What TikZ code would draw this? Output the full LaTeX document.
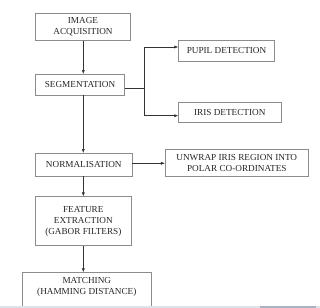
\documentclass[tikz,border=0pt]{standalone}
\usepackage{fontspec}
\setmainfont{Liberation Serif}
\usetikzlibrary{arrows.meta,calc}
\definecolor{boxline}{HTML}{8C8C8C}
\definecolor{bandA}{HTML}{DDE3EA}
\definecolor{bandB}{HTML}{A9B4C6}
\begin{document}
\begin{tikzpicture}[x=1bp,y=-1bp,
  stagebox/.style={draw=boxline,line width=0.7bp,fill=white,inner sep=0pt,align=center,
    font=\fontsize{9.2bp}{10.8bp}\selectfont,text=black!85},
  flow/.style={draw=black!80,line width=0.6bp,-{Latex[length=4bp,width=3.2bp]}}]
\useasboundingbox (0,0) rectangle (320,308);
\begin{scope}
\clip (0,0) rectangle (320,306);
\node[stagebox,minimum width=94.6bp,minimum height=27bp] (img) at (83,26.8) {IMAGE\\ACQUISITION};
\node[stagebox,minimum width=88.6bp,minimum height=20.7bp] (seg) at (80,84.7) {SEGMENTATION};
\node[stagebox,minimum width=95.6bp,minimum height=20.3bp] (pupil) at (226.5,50.8) {PUPIL DETECTION};
\node[stagebox,minimum width=102.3bp,minimum height=20.3bp] (iris) at (229.8,112.2) {IRIS DETECTION};
\node[stagebox,minimum width=96.3bp,minimum height=22.7bp] (norm) at (83.8,164.7) {NORMALISATION};
\node[stagebox,minimum width=143bp,minimum height=26.7bp] (unwrap) at (236.8,162.7) {UNWRAP IRIS REGION INTO\\POLAR CO-ORDINATES};
\node[stagebox,minimum width=95.3bp,minimum height=49bp] (feat) at (83.3,221.2) {FEATURE\\EXTRACTION\\(GABOR FILTERS)};
\node[stagebox,minimum width=129.7bp,minimum height=44bp,anchor=north] (match) at (86.8,272.3) {};
\node[align=center,font=\fontsize{9.2bp}{10.8bp}\selectfont,text=black!85,anchor=north,inner sep=0pt] (matchtext) at (86.8,277.5) {MATCHING\\(HAMMING DISTANCE)};
\end{scope}
\fill[bandA] (0,306) rectangle (320,308);
\fill[bandB] (260,306) rectangle (316,308);
% connectors
\coordinate (ax) at (83.3,0);
\draw[flow] (img.south -| ax) -- (seg.north -| ax);
\draw[flow] (seg.south -| ax) -- (norm.north -| ax);
\draw[flow] (norm.south -| ax) -- (feat.north -| ax);
\draw[flow] (feat.south -| ax) -- (match.north -| ax);
\coordinate (segout) at ($(seg.east)+(0,3.6)$);
\coordinate (bx) at (144.3,0);
\coordinate (pupin) at ($(pupil.west)+(0,-3.8)$);
\coordinate (irisin) at ($(iris.west)+(0,3.5)$);
\draw[draw=black!80,line width=0.6bp] (segout) -- (segout -| bx);
\draw[flow] (segout -| bx) |- (pupin);
\draw[flow] (segout -| bx) |- (irisin);
\coordinate (normout) at ($(norm.east)+(0,-1.4)$);
\draw[flow] (normout) -- (normout -| unwrap.west);
\end{tikzpicture}
\end{document}
